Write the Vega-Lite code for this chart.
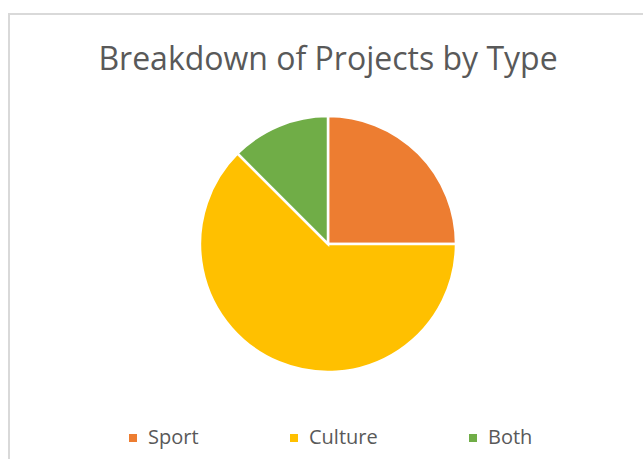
{
  "$schema": "https://vega.github.io/schema/vega-lite/v6.json",
  "autosize": {"type": "none"},
  "padding": {"left": 9, "top": 14, "right": 0, "bottom": 0},
  "width": 638,
  "height": 460,
  "background": "white",
  "view": {"stroke": "#d9d9d9", "strokeWidth": 2},
  "config": {
    "font": "Open Sans"
  },
  "title": {
    "text": "Breakdown of Projects by Type",
    "orient": "top",
    "anchor": "middle",
    "baseline": "alphabetic",
    "offset": -88,
    "fontSize": 32,
    "fontWeight": "normal",
    "color": "#595959",
    "font": "Open Sans"
  },
  "data": {
    "values": [
      {"type": "Sport", "count": 2},
      {"type": "Culture", "count": 5},
      {"type": "Both", "count": 1}
    ]
  },
  "mark": {"type": "arc", "outerRadius": 128, "stroke": "white", "strokeWidth": 2.5},
  "encoding": {
    "theta": {"field": "count", "type": "quantitative", "stack": true},
    "order": {"field": "type", "sort": "descending"},
    "color": {
      "field": "type",
      "type": "nominal",
      "sort": ["Sport", "Culture", "Both"],
      "scale": {"domain": ["Sport", "Culture", "Both"], "range": ["#ED7D31", "#FFC000", "#70AD47"]},
      "legend": {
        "title": null,
        "orient": "none",
        "direction": "horizontal",
        "legendX": 114,
        "legendY": 414,
        "symbolType": "square",
        "symbolSize": 64,
        "symbolStrokeWidth": 0,
        "labelFontSize": 20,
        "labelColor": "#595959",
        "labelFont": "Open Sans",
        "labelOffset": 5,
        "columnPadding": 85
      }
    }
  }
}
